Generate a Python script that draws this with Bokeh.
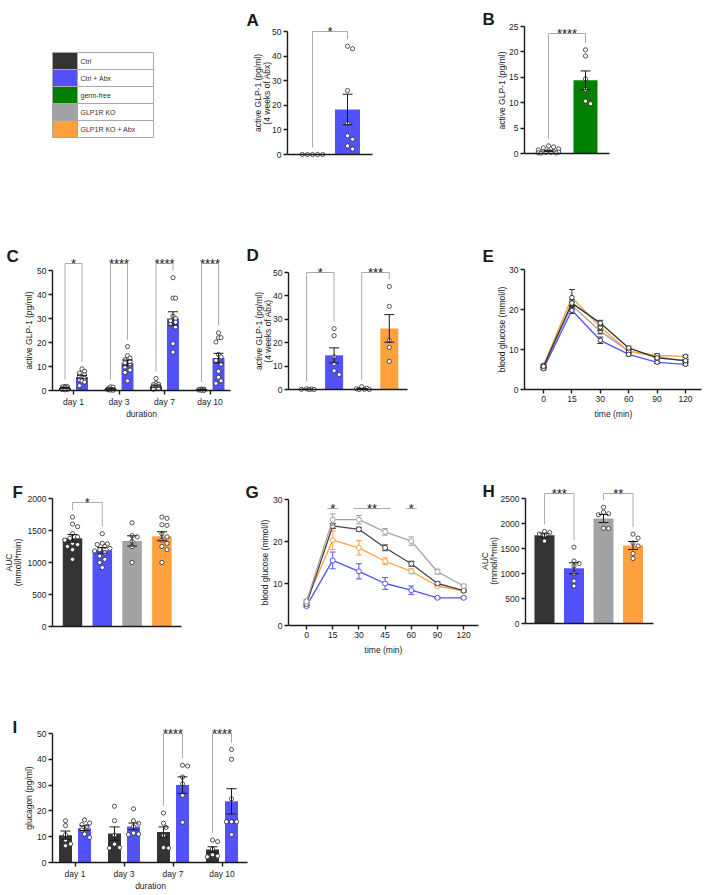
import math
from bokeh.plotting import figure
from bokeh.models import Range1d, FixedTicker, Label
from bokeh.layouts import row, column
from bokeh.embed import file_html
from bokeh.resources import INLINE
from bokeh.core.properties import value

FONT = "Liberation Sans"
INK = "#1a1a1a"
TICK_INK = "#222222"
C_CTRL = "#333333"
C_ABX = "#5252FA"
C_GF = "#008000"
C_KO = "#A3A3A6"
C_KOABX = "#FFA03F"
BRACKET = "#ABABAB"

# ===================== DATA =====================
legend_labels = ["Ctrl", "Ctrl + Abx", "germ-free", "GLP1R KO", "GLP1R KO + Abx"]
legend_colors = [C_CTRL, C_ABX, C_GF, C_KO, C_KOABX]

# A
a_colors = [C_CTRL, C_ABX]
a_means = [0.0, 18.3]
a_sems = [0.0, 6.2]
a_points = [[0.0, 0.0, 0.0, 0.0, 0.0],
            [44.0, 43.0, 26.0, 12.6, 7.6, 6.2, 3.5, 2.2]]
a_sig = [(0, 1, "*")]
a_yticks = [0, 10, 20, 30, 40, 50]
a_ylabel = ["active GLP-1 (pg/ml)", "(4 weeks of Abx)"]

# B
b_colors = [C_CTRL, C_GF]
b_means = [0.5, 14.4]
b_sems = [0.12, 1.85]
b_points = [[1.5, 1.3, 1.1, 0.9, 0.7, 0.5, 0.4, 0.35, 0.3, 0.2, 0.2, 0.15, 0.1, 0.05],
            [20.4, 19.2, 14.7, 12.6, 10.3, 9.8]]
b_sig = [(0, 1, "****")]
b_yticks = [0, 5, 10, 15, 20, 25]
b_ylabel = ["active GLP-1 (pg/ml)"]

# C
c_days = ["day 1", "day 3", "day 7", "day 10"]
c_colors = [C_CTRL, C_ABX]
c_means = [[1.0, 0.7, 1.8, 0.3], [5.6, 11.5, 30.0, 13.5]]
c_sems = [[0.2, 0.2, 0.4, 0.1], [0.7, 1.2, 2.8, 2.0]]
c_points = [
    [[1.7, 1.6, 1.5, 1.2, 1.0, 0.8, 0.6, 0.5, 0.4, 0.3],
     [1.5, 1.4, 0.8, 0.5, 0.4, 0.3, 0.2, 0.1],
     [5.0, 3.0, 2.6, 2.4, 2.0, 1.8, 1.5, 1.2, 0.8, 0.5],
     [0.6, 0.5, 0.4, 0.3, 0.2, 0.2, 0.1, 0.1]],
    [[9.0, 8.0, 7.2, 6.5, 6.0, 5.5, 5.0, 4.5, 4.0, 3.5, 2.0],
     [18.3, 14.5, 13.5, 12.8, 12.0, 11.5, 10.5, 9.8, 8.5, 7.5, 4.0],
     [47.0, 38.5, 38.5, 31.0, 30.0, 29.0, 28.5, 27.5, 26.5, 19.5, 16.0],
     [24.0, 22.0, 22.0, 20.2, 15.0, 14.0, 12.5, 11.0, 8.0, 5.5, 4.0, 3.0]],
]
c_sig = ["*", "****", "****", "****"]
c_yticks = [0, 10, 20, 30, 40, 50]
c_ylabel = ["active GLP-1 (pg/ml)"]
c_xlabel = "duration"

# D
d_colors = [C_CTRL, C_ABX, C_KO, C_KOABX]
d_means = [0.1, 14.6, 0.3, 26.1]
d_sems = [0.05, 3.2, 0.15, 5.9]
d_points = [[0.3, 0.2, 0.1, 0.0, 0.0],
            [26.0, 23.0, 14.0, 11.0, 8.0, 6.4],
            [1.2, 0.5, 0.3, 0.1, 0.0, 0.0],
            [44.0, 35.5, 21.0, 18.0, 12.0]]
d_sig = [(0, 1, "*"), (2, 3, "***")]
d_yticks = [0, 10, 20, 30, 40, 50]
d_ylabel = ["active GLP-1 (pg/ml)", "(4 weeks of Abx)"]

# E
e_times = ["0", "15", "30", "60", "90", "120"]
e_ctrl = [5.8, 21.6, 16.6, 10.4, 7.9, 7.2]
e_abx = [5.2, 19.8, 12.3, 8.8, 6.8, 6.3]
e_ko = [5.5, 21.0, 14.6, 9.6, 8.2, 7.1]
e_koabx = [6.0, 23.0, 15.6, 9.5, 8.5, 8.3]
e_ctrl_sem = [0.3, 0.8, 0.7, 0.4, 0.3, 0.3]
e_abx_sem = [0.3, 0.8, 0.8, 0.4, 0.3, 0.3]
e_ko_sem = [0.3, 0.9, 0.7, 0.4, 0.3, 0.3]
e_koabx_sem = [0.3, 2.0, 0.8, 0.4, 0.4, 0.3]
e_yticks = [0, 10, 20, 30]
e_ylabel = ["blood glucose (mmol/l)"]
e_xlabel = "time (min)"

# F
f_colors = [C_CTRL, C_ABX, C_KO, C_KOABX]
f_means = [1377, 1190, 1337, 1410]
f_sems = [60, 45, 80, 70]
f_points = [[1710, 1600, 1560, 1450, 1400, 1380, 1350, 1300, 1280, 1250, 1200, 1050],
            [1450, 1300, 1290, 1280, 1250, 1220, 1200, 1180, 1150, 1100, 1050, 1000, 920],
            [1620, 1420, 1400, 1330, 1250, 1000],
            [1710, 1690, 1590, 1580, 1450, 1400, 1350, 1300, 1250, 1200, 1000]]
f_sig = [(0, 1, "*")]
f_yticks = [0, 500, 1000, 1500, 2000]
f_ylabel = ["AUC", "(mmol/l*min)"]

# G
g_times = ["0", "15", "30", "45", "60", "90", "120"]
g_ko = [5.7, 25.2, 25.2, 22.3, 20.1, 12.8, 9.4]
g_ctrl = [5.1, 23.7, 22.9, 18.5, 14.7, 10.0, 8.3]
g_koabx = [5.9, 20.3, 18.5, 15.3, 12.9, 9.4, 8.2]
g_abx = [4.6, 15.5, 12.9, 10.0, 8.4, 6.6, 6.6]
g_ko_sem = [0.3, 1.4, 1.0, 0.8, 1.0, 0.6, 0.4]
g_ctrl_sem = [0.3, 0.6, 0.5, 0.7, 0.6, 0.4, 0.3]
g_koabx_sem = [0.3, 2.2, 1.7, 0.8, 0.6, 0.4, 0.3]
g_abx_sem = [0.3, 2.0, 1.8, 1.4, 1.0, 0.2, 0.2]
g_sig = [(1, 1, "*"), (2, 3, "**"), (4, 4, "*")]
g_yticks = [0, 10, 20, 30]
g_ylabel = ["blood glucose (mmol/l)"]
g_xlabel = "time (min)"

# H
h_colors = [C_CTRL, C_ABX, C_KO, C_KOABX]
h_means = [1765, 1105, 2100, 1560]
h_sems = [40, 110, 80, 80]
h_points = [[1840, 1820, 1790, 1760, 1650],
            [1526, 1250, 1200, 1150, 1000, 850, 750],
            [2325, 2227, 2195, 2175, 1903, 1900],
            [1786, 1708, 1610, 1550, 1400, 1300]]
h_sig = [(0, 1, "***"), (2, 3, "**")]
h_yticks = [0, 500, 1000, 1500, 2000, 2500]
h_ylabel = ["AUC", "(mmol/l*min)"]

# I
i_days = ["day 1", "day 3", "day 7", "day 10"]
i_colors = [C_CTRL, C_ABX]
i_means = [[10.6, 11.2, 11.8, 5.0], [13.3, 14.0, 30.0, 23.7]]
i_sems = [[1.6, 2.6, 2.0, 1.1], [0.9, 1.3, 3.2, 4.9]]
i_points = [
    [[16.2, 14.3, 10.8, 8.7, 7.2, 6.5],
     [21.8, 16.2, 10.6, 7.1, 5.8, 5.6],
     [19.2, 15.2, 13.6, 10.4, 5.8, 5.6],
     [8.7, 8.1, 5.2, 3.0, 2.5, 2.2]],
    [[16.5, 15.3, 14.7, 14.0, 12.6, 11.0, 9.7],
     [20.8, 16.2, 15.2, 13.9, 11.4, 11.0, 10.8],
     [37.7, 37.4, 33.1, 30.5, 26.0, 15.6],
     [43.8, 40.0, 24.7, 15.8, 15.8, 15.8, 10.8]],
]
i_sig = [None, None, "****", "****"]
i_yticks = [0, 10, 20, 30, 40, 50]
i_ylabel = ["glucagon (pg/ml)"]
i_xlabel = "duration"


# ===================== HELPERS =====================
class Geo:
    """Maps reference pixel positions of a panel onto its data coordinates."""

    def __init__(self, fig_box, x0px, xstep, y0px, yscale):
        self.fig_box = fig_box
        self.x0px = x0px
        self.xstep = xstep
        self.y0px = y0px
        self.yscale = yscale

    def x(self, px):
        return (px - self.x0px) / self.xstep

    def y(self, px):
        return (self.y0px - px) / self.yscale

    def dx(self, px):
        return px / self.xstep

    def dy(self, px):
        return px / self.yscale


def make_fig(g):
    fl, ft, fr, fb = g.fig_box
    p = figure(width=fr - fl, height=fb - ft,
               x_range=Range1d(g.x(fl), g.x(fr)), y_range=Range1d(g.y(fb), g.y(ft)),
               min_border=0, min_border_left=0, min_border_right=0,
               min_border_top=0, min_border_bottom=0,
               output_backend="svg", toolbar_location=None)
    p.xgrid.visible = False
    p.ygrid.visible = False
    p.outline_line_color = None
    p.background_fill_color = "white"
    p.border_fill_color = "white"
    return p


def style_axes(p, g, yticks, tick_fs, axis_px, xend_px, xticks=None, xtick_labels=None):
    for ax in list(p.xaxis) + list(p.yaxis):
        ax.axis_line_color = INK
        ax.axis_line_width = 1.4
        ax.major_tick_line_color = INK
        ax.major_tick_line_width = 1.4
        ax.major_tick_in = 0
        ax.major_tick_out = 4
        ax.minor_tick_line_color = None
        ax.major_label_text_font = FONT
        ax.major_label_text_font_size = tick_fs
        ax.major_label_text_color = TICK_INK
        ax.major_label_standoff = 2
    p.yaxis.fixed_location = g.x(axis_px)
    p.xaxis.fixed_location = 0
    p.yaxis.ticker = FixedTicker(ticks=yticks)
    p.yaxis.bounds = (0, yticks[-1])
    p.xaxis.bounds = (g.x(axis_px), g.x(xend_px))
    if xticks is None:
        p.xaxis.ticker = FixedTicker(ticks=[])
    else:
        p.xaxis.ticker = FixedTicker(ticks=xticks)
        p.xaxis.major_label_overrides = {t: lab for t, lab in zip(xticks, xtick_labels)}


def add_text(p, g, text, px, py, size, angle=0.0, bold=False, align="center", baseline="middle"):
    p.add_layout(Label(x=g.x(px), y=g.y(py), text=text, angle=angle,
                       text_font=FONT, text_font_size=size,
                       text_font_style="bold" if bold else "normal",
                       text_align=align, text_baseline=baseline, text_color=INK))


def ytitle(p, g, lines, xs_px, y_px, size):
    for txt, xp in zip(lines, xs_px):
        add_text(p, g, txt, xp, y_px, size, angle=math.pi / 2)


def swarm(vals, g, diam, max_px):
    step = diam + 0.9
    thr = (step * 0.92) ** 2
    order = sorted(range(len(vals)), key=lambda i: -vals[i])
    placed = []
    offs = [0.0] * len(vals)
    for i in order:
        ypx = vals[i] * g.yscale
        chosen, best, best_d = None, 0.0, -1.0
        for k in range(60):
            c = ((k + 1) // 2) * (1 if k % 2 else -1) * step / 2
            if abs(c) > max_px:
                continue
            dmin = min([(c - xp) ** 2 + (ypx - yp) ** 2 for xp, yp in placed] or [1e9])
            if dmin >= thr:
                chosen = c
                break
            if dmin > best_d:
                best_d, best = dmin, c
        if chosen is None:
            chosen = best
        placed.append((chosen, ypx))
        offs[i] = g.dx(chosen)
    return offs


def bar_marks(p, g, xs, means, sems, colors, points, bar_px, diam=4.2, cap_px=5):
    p.vbar(x=xs, top=means, bottom=0, width=g.dx(bar_px), fill_color=colors, line_color=None)
    pxs, pys = [], []
    max_px = bar_px / 2 - 1
    for x, vals in zip(xs, points):
        for o, v in zip(swarm(vals, g, diam, max_px), vals):
            pxs.append(x + o)
            pys.append(v)
    p.scatter(x=pxs, y=pys, marker="circle", size=diam, fill_color="white",
              line_color="#2a2a2a", line_width=0.8)
    ex = [x for x, s in zip(xs, sems) if s > 0]
    lo = [m - s for m, s in zip(means, sems) if s > 0]
    hi = [m + s for m, s in zip(means, sems) if s > 0]
    cw = g.dx(cap_px)
    p.segment(x0=ex, y0=lo, x1=ex, y1=hi, line_color=INK, line_width=1)
    p.segment(x0=[x - cw for x in ex], y0=hi, x1=[x + cw for x in ex], y1=hi, line_color=INK, line_width=1)
    p.segment(x0=[x - cw for x in ex], y0=lo, x1=[x + cw for x in ex], y1=lo, line_color=INK, line_width=1)


def brackets(p, g, xs, means, sems, points, sig, bracket_px, pad_px=7, fs="13px"):
    ytop = g.y(bracket_px)
    x0, y0, x1, y1 = [], [], [], []
    tx, ty, tt = [], [], []

    def top_of(k):
        return max(max(points[k]), means[k] + sems[k]) + g.dy(pad_px)

    for i, j, stars in sig:
        x0 += [xs[i], xs[i], xs[j]]
        y0 += [ytop, ytop, ytop]
        x1 += [xs[j], xs[i], xs[j]]
        y1 += [ytop, top_of(i), top_of(j)]
        tx.append((xs[i] + xs[j]) / 2)
        ty.append(ytop + g.dy(0.5))
        tt.append(stars)
    p.segment(x0=x0, y0=y0, x1=x1, y1=y1, line_color=BRACKET, line_width=1)
    p.text(x=tx, y=ty, text=tt, text_font=value(FONT), text_font_size=value(fs),
           text_align="center", text_baseline="alphabetic", text_color=INK)


def line_marks(p, g, means, sems, color, outline, diam, cap_px=3):
    xs = list(range(len(means)))
    lo = [m - s for m, s in zip(means, sems)]
    hi = [m + s for m, s in zip(means, sems)]
    cw = g.dx(cap_px)
    p.segment(x0=xs, y0=lo, x1=xs, y1=hi, line_color=outline, line_width=1)
    p.segment(x0=[x - cw for x in xs], y0=hi, x1=[x + cw for x in xs], y1=hi, line_color=outline, line_width=1)
    p.segment(x0=[x - cw for x in xs], y0=lo, x1=[x + cw for x in xs], y1=lo, line_color=outline, line_width=1)
    p.line(x=xs, y=means, line_color=color, line_width=1.3)
    p.scatter(x=xs, y=means, marker="circle", size=diam, fill_color="white",
              line_color=outline, line_width=1)


def grouped(days_n, series_means, series_sems, series_points, series_colors, off):
    xs, ms, ss, cs, pts = [], [], [], [], []
    ns = len(series_means)
    for d in range(days_n):
        for s in range(ns):
            xs.append(d + (s - (ns - 1) / 2) * 2 * off)
            ms.append(series_means[s][d])
            ss.append(series_sems[s][d])
            cs.append(series_colors[s])
            pts.append(series_points[s][d])
    return xs, ms, ss, cs, pts


def letter(p, g, text, px, py):
    add_text(p, g, text, px, py, "17px", bold=True, align="left", baseline="alphabetic")


# ===================== LEGEND =====================
gl = Geo((0, 0, 215, 168), 52, 101, 137, 17)
pl = make_fig(gl)
pl.axis.visible = False
nrow = len(legend_labels)
tops = [nrow - i for i in range(nrow)]
bots = [nrow - i - 1 for i in range(nrow)]
sw = gl.x(77)
pl.quad(left=0, right=sw, top=tops, bottom=bots, fill_color=legend_colors, line_color=None)
pl.quad(left=0, right=sw, top=tops, bottom=bots, fill_color=None, line_color="#A8A8A8", line_width=1)
pl.quad(left=sw, right=1, top=tops, bottom=bots, fill_color=None, line_color="#A8A8A8", line_width=1)
pl.text(x=[gl.x(80)] * nrow, y=[b + 0.5 for b in bots], text=legend_labels,
        text_font=value(FONT), text_font_size=value("7px"), text_align="left",
        text_baseline="middle", text_color="#333333")

# ===================== A =====================
ga = Geo((215, 0, 445, 168), 312, 35, 154, 2.46)
pa = make_fig(ga)
style_axes(pa, ga, a_yticks, "8.5px", 287, 372)
xa = list(range(len(a_means)))
bar_marks(pa, ga, xa, a_means, a_sems, a_colors, a_points, 25)
brackets(pa, ga, xa, a_means, a_sems, a_points, a_sig, 31)
ytitle(pa, ga, a_ylabel, [257, 266], 92.5, "8.5px")
letter(pa, ga, "A", 246, 20)

# ===================== B =====================
gb = Geo((445, 0, 702, 168), 548, 37, 153, 5.08)
pb = make_fig(gb)
style_axes(pb, gb, b_yticks, "8.5px", 524, 609)
xb = list(range(len(b_means)))
bar_marks(pb, gb, xb, b_means, b_sems, b_colors, b_points, 24)
brackets(pb, gb, xb, b_means, b_sems, b_points, b_sig, 33)
ytitle(pb, gb, b_ylabel, [501], 90, "8.5px")
letter(pb, gb, "B", 482, 19)

# ===================== C =====================
gc = Geo((0, 168, 240, 425), 73, 45.5, 390, 2.4)
pc = make_fig(gc)
style_axes(pc, gc, c_yticks, "8.5px", 52, 230, list(range(len(c_days))), c_days)
xc, mc, sc, cc, ptc = grouped(len(c_days), c_means, c_sems, c_points, c_colors, gc.dx(8.5))
bar_marks(pc, gc, xc, mc, sc, cc, ptc, 12)
csig = [(2 * d, 2 * d + 1, s) for d, s in enumerate(c_sig) if s]
brackets(pc, gc, xc, mc, sc, ptc, csig, 263)
ytitle(pc, gc, c_ylabel, [28], 330, "8.5px")
add_text(pc, gc, c_xlabel, 141, 413, "8.5px")
letter(pc, gc, "C", 6, 256)

# ===================== D =====================
gd = Geo((240, 168, 445, 425), 306, 27.6, 389, 2.34)
pd_ = make_fig(gd)
style_axes(pd_, gd, d_yticks, "8.5px", 288, 407)
xd = list(range(len(d_means)))
bar_marks(pd_, gd, xd, d_means, d_sems, d_colors, d_points, 18)
brackets(pd_, gd, xd, d_means, d_sems, d_points, d_sig, 272)
ytitle(pd_, gd, d_ylabel, [258, 267], 330.5, "8.5px")
letter(pd_, gd, "D", 246, 255)

# ===================== E =====================
ge = Geo((445, 168, 702, 425), 543, 28.4, 389, 4.0)
pe = make_fig(ge)
style_axes(pe, ge, e_yticks, "8.5px", 524, 701, list(range(len(e_times))), e_times)
for m, s, c in [(e_ko, e_ko_sem, C_KO), (e_koabx, e_koabx_sem, C_KOABX),
                (e_abx, e_abx_sem, C_ABX), (e_ctrl, e_ctrl_sem, C_CTRL)]:
    line_marks(pe, ge, m, s, c, "#333333", 4.5)
ytitle(pe, ge, e_ylabel, [501], 329, "8.5px")
add_text(pe, ge, e_xlabel, 613, 413, "8.5px")
letter(pe, ge, "E", 482, 256)

# ===================== F =====================
gf = Geo((0, 425, 240, 700), 72, 29.8, 626, 0.064)
pf = make_fig(gf)
style_axes(pf, gf, f_yticks, "8.5px", 52, 181)
xf = list(range(len(f_means)))
bar_marks(pf, gf, xf, f_means, f_sems, f_colors, f_points, 19.5)
brackets(pf, gf, xf, f_means, f_sems, f_points, f_sig, 502)
ytitle(pf, gf, f_ylabel, [8, 17], 562, "8.5px")
letter(pf, gf, "F", 12, 492)

# ===================== G =====================
gg = Geo((240, 425, 480, 700), 306, 26.2, 625, 4.2)
pg = make_fig(gg)
style_axes(pg, gg, g_yticks, "8.5px", 288, 478, list(range(len(g_times))), g_times)
for m, s, c in [(g_abx, g_abx_sem, C_ABX), (g_koabx, g_koabx_sem, C_KOABX),
                (g_ctrl, g_ctrl_sem, "#444444"), (g_ko, g_ko_sem, C_KO)]:
    line_marks(pg, gg, m, s, c, c, 5)
sy = gg.y(508)
half = gg.dx(5.5)
pg.segment(x0=[a - half for a, b, t in g_sig], y0=[sy] * len(g_sig),
           x1=[b + half for a, b, t in g_sig], y1=[sy] * len(g_sig),
           line_color=BRACKET, line_width=1)
pg.text(x=[(a + b) / 2 for a, b, t in g_sig], y=[sy] * len(g_sig), text=[t for a, b, t in g_sig],
        text_font=value(FONT), text_font_size=value("13px"), text_align="center",
        text_baseline="alphabetic", text_color=INK)
ytitle(pg, gg, g_ylabel, [264], 562, "8.5px")
add_text(pg, gg, g_xlabel, 383, 649, "8.5px")
letter(pg, gg, "G", 245, 492)

# ===================== H =====================
gh = Geo((480, 425, 702, 700), 544, 29.5, 623, 0.05)
ph = make_fig(gh)
style_axes(ph, gh, h_yticks, "8.5px", 525, 653)
xh = list(range(len(h_means)))
bar_marks(ph, gh, xh, h_means, h_sems, h_colors, h_points, 20)
brackets(ph, gh, xh, h_means, h_sems, h_points, h_sig, 493)
ytitle(ph, gh, h_ylabel, [484, 493], 560.5, "8.5px")
letter(ph, gh, "H", 482, 491)

# ===================== I =====================
gi = Geo((0, 700, 270, 892), 74.5, 49, 862, 2.58)
pi_ = make_fig(gi)
style_axes(pi_, gi, i_yticks, "8.5px", 52, 247, list(range(len(i_days))), i_days)
xi, mi, si, ci, pti = grouped(len(i_days), i_means, i_sems, i_points, i_colors, gi.dx(9.5))
bar_marks(pi_, gi, xi, mi, si, ci, pti, 13)
isig = [(2 * d, 2 * d + 1, s) for d, s in enumerate(i_sig) if s]
brackets(pi_, gi, xi, mi, si, pti, isig, 733)
ytitle(pi_, gi, i_ylabel, [28], 797.5, "8.5px")
add_text(pi_, gi, i_xlabel, 150, 885, "8.5px")
letter(pi_, gi, "I", 12, 727)

layout = column(row(pl, pa, pb), row(pc, pd_, pe), row(pf, pg, ph), row(pi_))
open("out.html", "w").write(file_html(layout, INLINE))
